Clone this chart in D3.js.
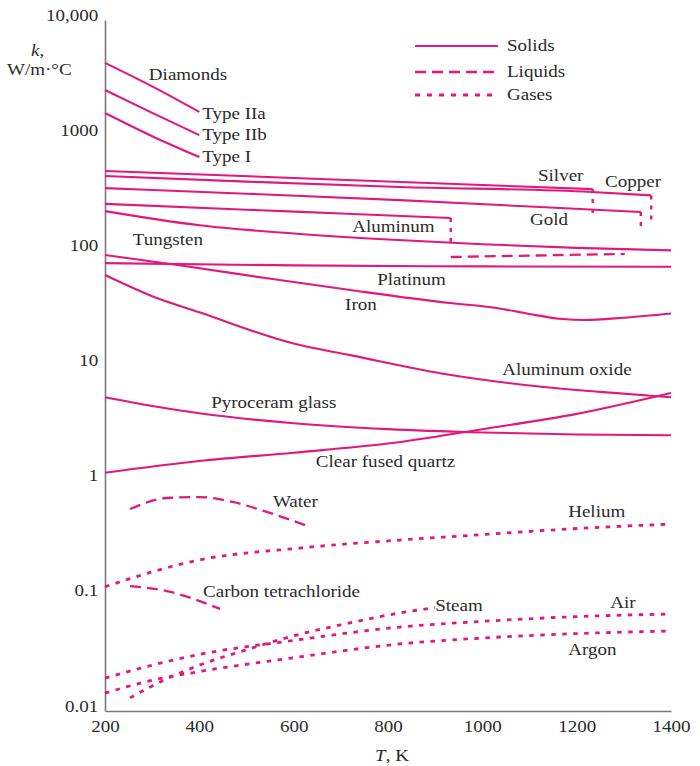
<!DOCTYPE html>
<html><head><meta charset="utf-8">
<script src="https://cdn.jsdelivr.net/npm/d3@7"></script>
<style>
body{margin:0;background:#fff}
svg{display:block}
text{font-family:"Liberation Serif","Times New Roman",serif;fill:#2b2b2b;font-size:17px}
</style>
</head><body>
<svg id="c" width="700" height="766"></svg>
<script>
// ---------- axis ticks ----------
const xTicks = [200, 400, 600, 800, 1000, 1200, 1400];
const yTicks = [0.01, 0.1, 1, 10, 100, 1000, 10000];
const yTickLabels = ["0.01", "0.1", "1", "10", "100", "1000", "10,000"];

// ---------- solids [T (K), k (W/m·°C)] ----------
const diamondIIa = [[200,4240],[300,2650],[400,1590]];
const diamondIIb = [[200,2466],[300,1560],[400,1000]];
const diamondI   = [[200,1557],[300,980],[400,646]];
const silver     = [[200,489],[600,425],[1000,369],[1234,340]];
const copper     = [[200,442],[500,395],[825,355],[1232,321],[1358,300]];
const gold       = [[200,347],[500,310],[825,273],[1100,240],[1336,215]];
const aluminum   = [[200,253],[500,225],[700,209],[933,191]];
const tungsten   = [[200,219],[400,165],[600,140],[800,124],[1000,113],[1200,105],[1400,100]];
const platinum   = [[200,77.5],[600,74],[1000,72.5],[1400,72]];
const iron       = [[200,91],[350,75],[540,57.5],[720,45.2],[930,34.9],[1030,31.6],[1100,28],[1170,25.3],[1215,24.8],[1300,26],[1400,28.3]];
const aluminumOxide = [[200,61],[300,40],[400,29],[600,15.5],[720,12.3],[930,8.3],[1100,6.7],[1250,5.9],[1400,5.3]];
const pyroceram  = [[200,5.3],[300,4.45],[400,3.85],[600,3.15],[800,2.8],[1000,2.62],[1200,2.52],[1400,2.48]];
const quartz     = [[200,1.17],[400,1.48],[600,1.75],[800,2.1],[1000,2.8],[1200,3.8],[1400,5.77]];

// ---------- liquids ----------
const water          = [[253,0.567],[331,0.707],[401,0.72],[471,0.653],[543,0.535],[630,0.404]];
const carbonTet      = [[253,0.1216],[331,0.110],[444,0.0769]];
const aluminumLiquid = [[933,87.5],[1100,90],[1302,93]];

// ---------- gases ----------
const helium = [[200,0.12],[400,0.205],[613,0.26],[825,0.305],[1000,0.34],[1180,0.38],[1400,0.42]];
const steam  = [[253,0.013],[300,0.0165],[400,0.025],[500,0.034],[600,0.045],[700,0.056],[825,0.071],[900,0.079]];
const air    = [[200,0.0193],[300,0.025],[400,0.031],[600,0.041],[825,0.0536],[1000,0.06],[1200,0.066],[1400,0.0695]];
const argon  = [[200,0.0143],[300,0.0185],[400,0.022],[600,0.029],[825,0.0382],[1000,0.043],[1200,0.047],[1400,0.0495]];

// ---------- melting-point drops: [T, k solid, k liquid] ----------
const meltDrops = [[1234,340,194],[1358,300,176],[1336,215,159],[933,191,111]];

// ---------- curve labels: [text, T, k] ----------
const curveLabels = [
  ["Diamonds",293,3010],["Type IIa",406,1382],["Type IIb",406,908],["Type I",406,585],
  ["Silver",1118,400],["Copper",1260,355],["Gold",1101,166],["Aluminum",724,144],
  ["Tungsten",259,111],["Platinum",777,50],["Iron",709,30.3],["Aluminum oxide",1042,8.27],
  ["Pyroceram glass",425,4.28],["Clear fused quartz",647,1.314],["Water",556,0.59],
  ["Carbon tetrachloride",408,0.0977],["Helium",1182,0.4836],["Steam",900,0.0738],
  ["Air",1271,0.0784],["Argon",1182,0.0306]
];
const legendLabels = ["Solids","Liquids","Gases"];

// ---------- drawing ----------
const COLOR = "#e2187b";
const SX = 1.12;
const svg = d3.select("#c");
const x = d3.scaleLinear().domain([200,1400]).range([105,671]);
const y = d3.scaleLog().domain([0.01,10000]).range([711,20]);

const styles = {
  solid:{dash:null, w:2.1},
  liquid:{dash:"11,6", w:2.3},
  gas:{dash:"4.5,6.5", w:2.8}
};

// axes
const gx = svg.append("g").attr("transform","translate(0,711)")
  .call(d3.axisBottom(x).tickValues(xTicks).tickFormat(d3.format("d")).tickSize(0).tickSizeOuter(0).tickPadding(9));
const gy = svg.append("g").attr("transform","translate(105,0)")
  .call(d3.axisLeft(y).tickValues(yTicks).tickFormat((d,i)=>yTickLabels[i]).tickSize(0).tickSizeOuter(0).tickPadding(6));
[gx,gy].forEach(g=>{
  g.select(".domain").attr("stroke","#7a7a7a").attr("stroke-width",1.6);
  g.selectAll("text").attr("font-family",null).attr("font-size",null)
   .style("font-family",'"Liberation Serif","Times New Roman",serif').style("font-size","17px").style("fill","#2b2b2b");
});
gx.selectAll("text").attr("transform",`scale(${SX},1)`);
gy.selectAll("text").attr("transform",`scale(${SX},1)`).attr("dy","0.0em");

const line = d3.line().x(d=>x(d[0])).y(d=>y(d[1])).curve(d3.curveMonotoneX);

function draw(arr, kind){
  arr.forEach(s=>{
    svg.append("path").attr("d",line(s)).attr("fill","none").attr("stroke",COLOR)
      .attr("stroke-width",styles[kind].w).attr("stroke-dasharray",styles[kind].dash)
      .attr("stroke-linejoin","round");
  });
}
draw([diamondIIa,diamondIIb,diamondI,silver,copper,gold,aluminum,tungsten,platinum,iron,aluminumOxide,pyroceram,quartz],"solid");
draw([water,carbonTet,aluminumLiquid],"liquid");
draw([helium,steam,air,argon],"gas");

meltDrops.forEach(m=>{
  svg.append("line").attr("x1",x(m[0])).attr("x2",x(m[0])).attr("y1",y(m[1])).attr("y2",y(m[2]))
    .attr("stroke",COLOR).attr("stroke-width",2.4).attr("stroke-dasharray","4,6");
});

// curve labels
curveLabels.forEach(l=>{
  svg.append("g").attr("transform",`translate(${x(l[1])},${y(l[2])}) scale(${SX},1)`)
    .append("text").text(l[0]);
});

// axis titles
const kt = svg.append("g").attr("transform",`translate(31,56) scale(${SX},1)`).append("text");
kt.append("tspan").style("font-style","italic").text("k");
kt.append("tspan").text(",");
svg.append("g").attr("transform",`translate(7,75) scale(${SX},1)`).append("text").text("W/m·°C");
const tt = svg.append("g").attr("transform",`translate(392,761) scale(${SX},1)`).append("text").attr("text-anchor","middle");
tt.append("tspan").style("font-style","italic").text("T");
tt.append("tspan").text(", K");

// legend
const legY = [46,72,95];
["solid","liquid","gas"].forEach((k,i)=>{
  svg.append("line").attr("x1",415).attr("x2",498).attr("y1",legY[i]).attr("y2",legY[i])
    .attr("stroke",COLOR).attr("stroke-width",styles[k].w).attr("stroke-dasharray",k==="gas"?"5,7":styles[k].dash);
  svg.append("g").attr("transform",`translate(507,${legY[i]+5}) scale(${SX},1)`).append("text").text(legendLabels[i]);
});
</script>
</body></html>
